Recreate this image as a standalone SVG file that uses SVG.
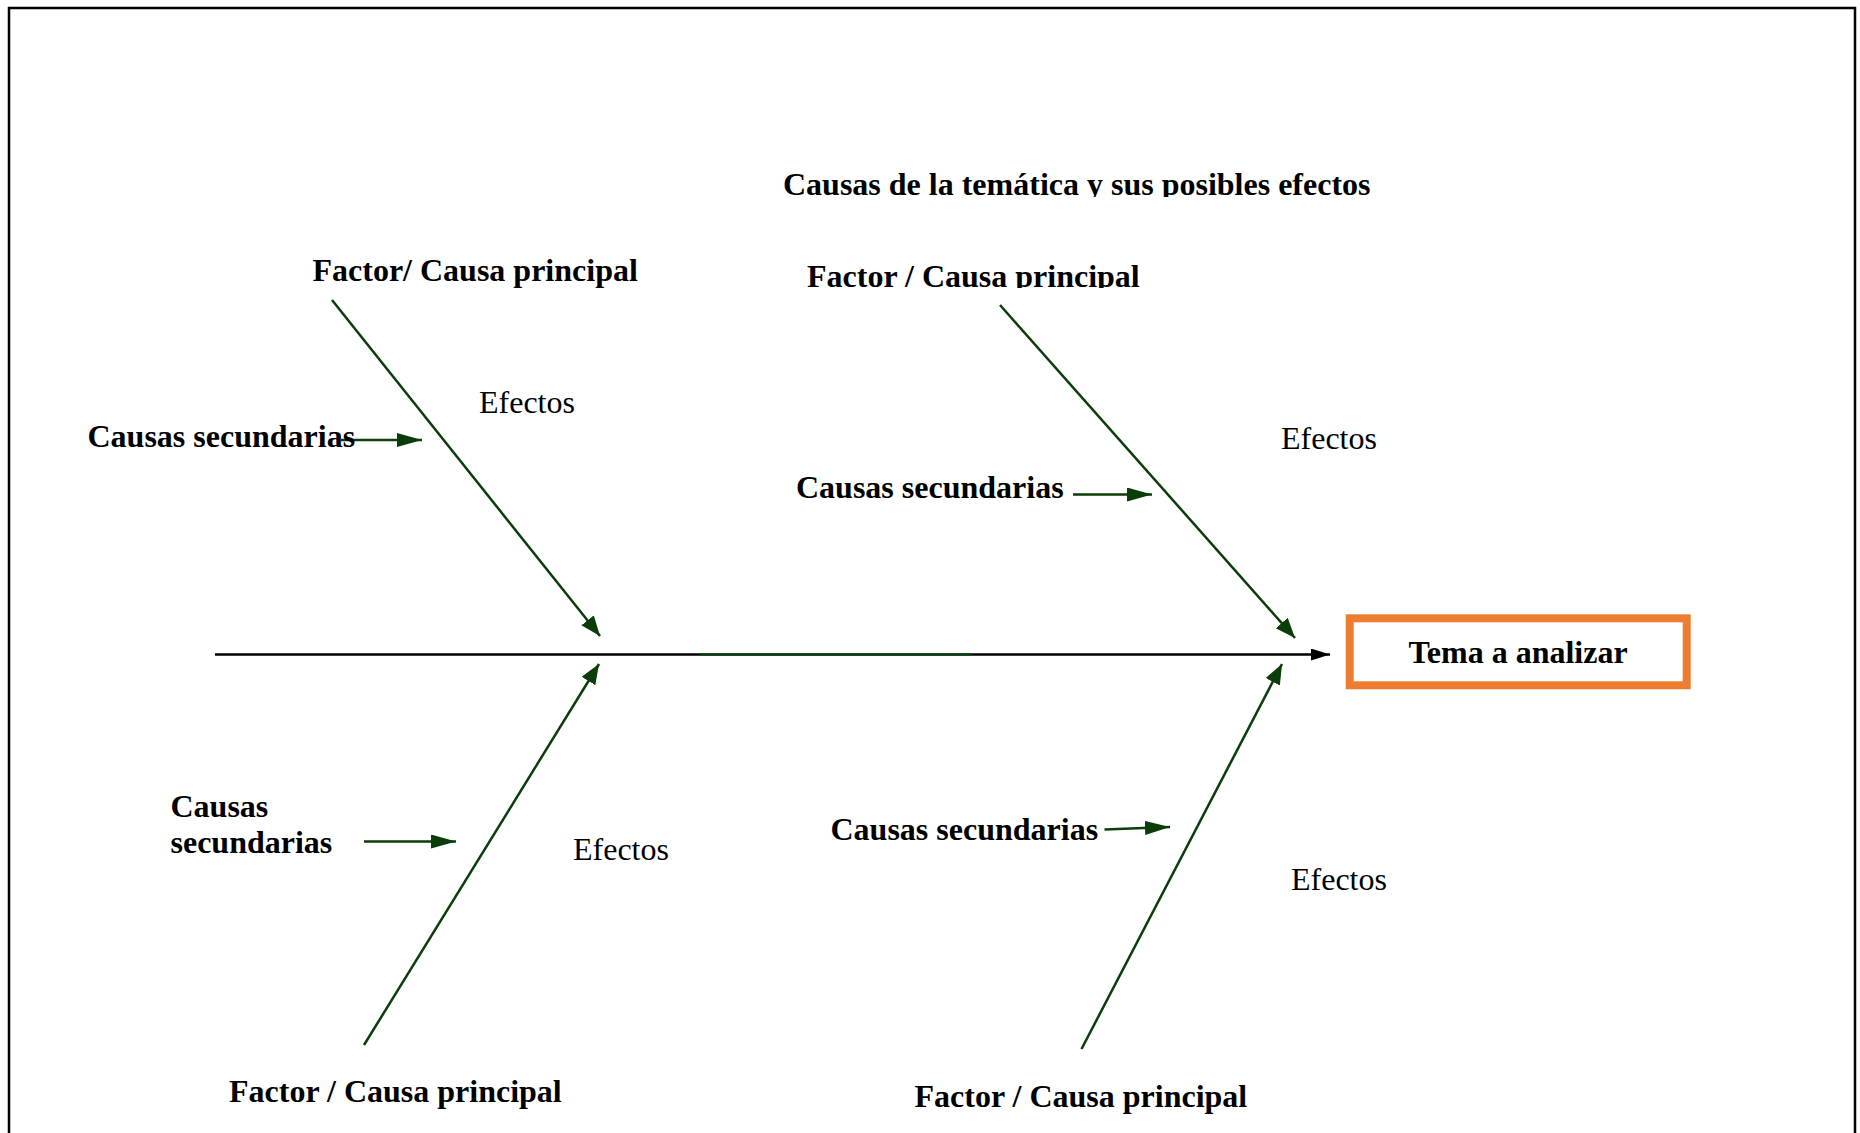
<svg xmlns="http://www.w3.org/2000/svg" width="1860" height="1133" viewBox="0 0 1860 1133">
<style>
.b{font-family:"Liberation Serif","Times New Roman",serif;font-weight:bold;font-size:32px;fill:#000}
.r{font-family:"Liberation Serif","Times New Roman",serif;font-size:32px;fill:#000}
.bone{stroke:#0a3d0a;stroke-width:2.5;fill:none}
</style>
<defs>
<marker id="ag" markerUnits="userSpaceOnUse" markerWidth="22" markerHeight="18" refX="20" refY="8" orient="auto" viewBox="0 0 22 18">
<path d="M0,0 L20,8 L0,16 Z" fill="#0a3d0a"/>
</marker>
<marker id="as" markerUnits="userSpaceOnUse" markerWidth="26" markerHeight="16" refX="25" refY="7" orient="auto" viewBox="0 0 26 16">
<path d="M0,0 L25,7 L0,14 Z" fill="#0a3d0a"/>
</marker>
<marker id="ab" markerUnits="userSpaceOnUse" markerWidth="22" markerHeight="14" refX="19" refY="6" orient="auto" viewBox="0 0 22 14">
<path d="M0,0 L19,6 L0,12 Z" fill="#000"/>
</marker>
<clipPath id="c1"><rect x="770" y="150" width="620" height="47"/></clipPath>
<clipPath id="c2"><rect x="800" y="250" width="350" height="38"/></clipPath>
</defs>
<g id="frame">
<path d="M9,1133 L9,8 L1855,8 L1855,1133" fill="none" stroke="#000" stroke-width="2.5"/>
</g>
<g id="connectors">
<line x1="215" y1="654.5" x2="1330" y2="654.5" stroke="#000" stroke-width="2.5" marker-end="url(#ab)"/>
<line x1="700" y1="654.5" x2="972" y2="654.5" stroke="#0a4a14" stroke-width="2.5" opacity="0.8"/>
<line class="bone" x1="332" y1="300" x2="600" y2="636" marker-end="url(#ag)"/>
<line class="bone" x1="1000" y1="305" x2="1295" y2="638" marker-end="url(#ag)"/>
<line class="bone" x1="364" y1="1045" x2="599" y2="664" marker-end="url(#ag)"/>
<line class="bone" x1="1081.5" y1="1049" x2="1282" y2="664" marker-end="url(#ag)"/>
<line class="bone" x1="341" y1="440" x2="422" y2="440" marker-end="url(#as)"/>
<line class="bone" x1="1073" y1="494.5" x2="1152" y2="494.5" marker-end="url(#as)"/>
<line class="bone" x1="364" y1="841.5" x2="456" y2="841.5" marker-end="url(#as)"/>
<line class="bone" x1="1104.5" y1="829.5" x2="1170" y2="827" marker-end="url(#as)"/>
</g>
<g id="title"><text class="b" x="783" y="195" clip-path="url(#c1)">Causas de la temática y sus posibles efectos</text></g>
<g id="tema">
<rect x="1349.7" y="618.3" width="337" height="67" fill="#fff" stroke="#ED7D31" stroke-width="8"/>
<text class="b" x="1518" y="663" text-anchor="middle">Tema a analizar</text>
</g>
<g id="factor-tl"><text class="b" x="312.5" y="281">Factor/ Causa principal</text></g>
<g id="factor-tr"><text class="b" x="807" y="287" clip-path="url(#c2)">Factor / Causa principal</text></g>
<g id="factor-bl"><text class="b" x="229" y="1102">Factor / Causa principal</text></g>
<g id="factor-br"><text class="b" x="914.5" y="1107">Factor / Causa principal</text></g>
<g id="causas-tl"><text class="b" x="87.5" y="447">Causas secundarias</text></g>
<g id="causas-tr"><text class="b" x="796" y="498">Causas secundarias</text></g>
<g id="causas-bl"><text class="b" x="170.5" y="817">Causas</text><text class="b" x="170.5" y="853">secundarias</text></g>
<g id="causas-br"><text class="b" x="830.5" y="840">Causas secundarias</text></g>
<g id="efectos-tl"><text class="r" x="479" y="413">Efectos</text></g>
<g id="efectos-tr"><text class="r" x="1281" y="449">Efectos</text></g>
<g id="efectos-bl"><text class="r" x="573" y="860">Efectos</text></g>
<g id="efectos-br"><text class="r" x="1291" y="890">Efectos</text></g>
</svg>
